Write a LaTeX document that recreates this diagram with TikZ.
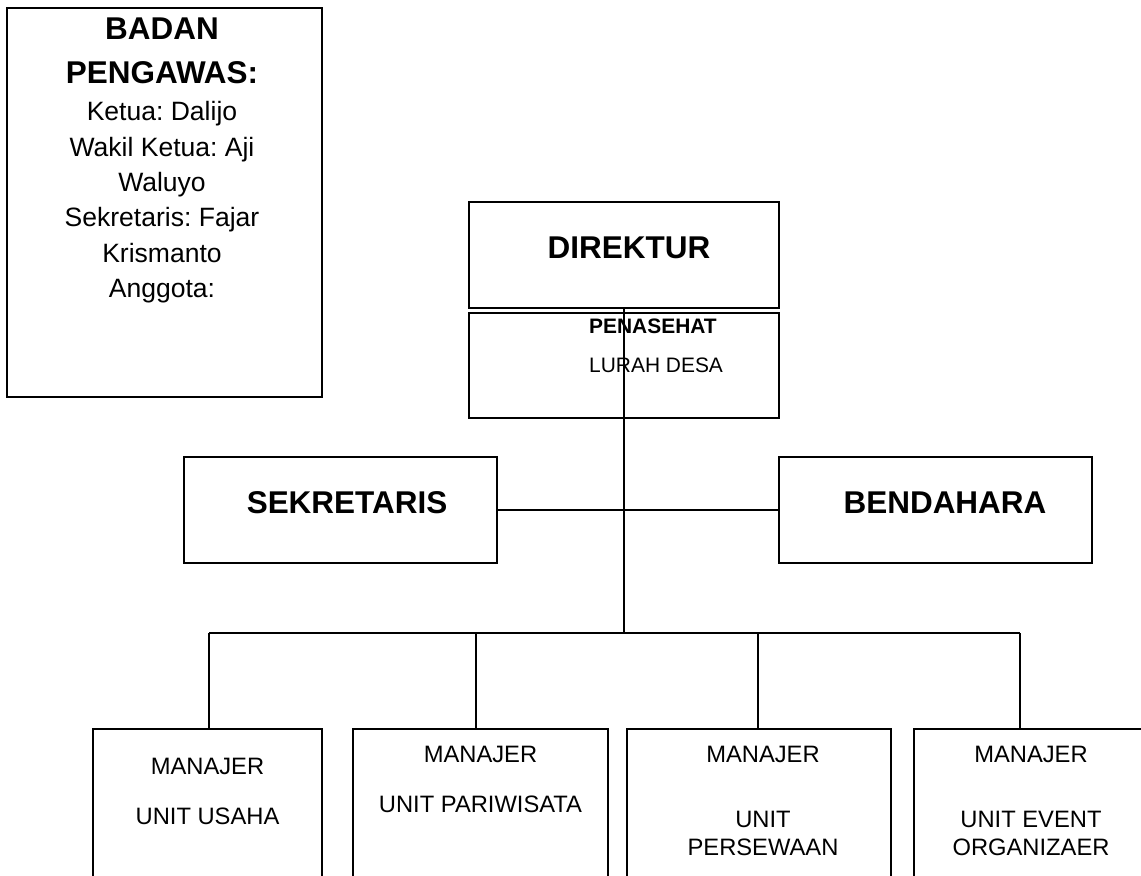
\documentclass[tikz,border=0pt]{standalone}
\usepackage{fontspec}
\setmainfont{Liberation Sans}
\usetikzlibrary{positioning}
\frenchspacing
\newcommand{\px}{0.75pt}
\tikzset{
  box/.style={draw=black, line width=1.6pt, inner sep=0pt},
  conn/.style={draw=black, line width=1.6pt},
  headtxt/.style={font=\fontsize{23.6}{33.2}\selectfont\bfseries, inner sep=0pt, align=center},
  listtxt/.style={font=\fontsize{19.9}{26.5}\selectfont, inner sep=0pt, align=center},
  advtxt/.style={font=\fontsize{15.7}{28.9}\selectfont, inner sep=0pt, align=left},
  unittxt/.style={font=\fontsize{17.8}{21}\selectfont, inner sep=0pt, align=center}
}

\begin{document}
\begin{tikzpicture}[x=\px, y=-\px]
  \useasboundingbox (0,0) rectangle (1141,875);
  \clip (0,0) rectangle (1141,875);

  % badan pengawas
  \node[box, minimum width=315*\px, minimum height=389*\px] (pengawas) at (164.5,202.5) {};
  \node[headtxt, below=10.5*\px of pengawas.north, xshift=-2.5*\px] (pengawashead) {BADAN\\PENGAWAS:};
  \node[listtxt, below=17*\px of pengawashead] (pengawaslist) {Ketua: Dalijo\\Wakil Ketua: Aji\\Waluyo\\Sekretaris: Fajar\\Krismanto\\Anggota:};

  % direktur + penasehat
  \node[box, minimum width=310*\px, minimum height=106*\px] (direktur) at (624,255) {};
  \node[headtxt] (direkturtxt) at ([xshift=5*\px, yshift=7*\px]direktur.center) {DIREKTUR};
  \node[box, minimum width=310*\px, minimum height=105*\px] (penasehat) at (624,365.5) {};
  \node[advtxt, anchor=north west] (penasehattxt) at ([xshift=121*\px, yshift=-7*\px]penasehat.north west) {\textbf{PENASEHAT}\\LURAH DESA};

  % sekretaris, bendahara
  \node[box, minimum width=313*\px, minimum height=106*\px] (sek) at (340.5,510) {};
  \node[headtxt] (sektxt) at ([xshift=6.5*\px, yshift=7*\px]sek.center) {SEKRETARIS};
  \node[box, minimum width=313*\px, minimum height=106*\px] (bend) at (935.5,510) {};
  \node[headtxt] (bendtxt) at ([xshift=9.5*\px, yshift=7*\px]bend.center) {BENDAHARA};

  % manajer unit
  \node[box, minimum width=229*\px, minimum height=200*\px] (m1) at (207.5,829) {};
  \node[box, minimum width=255*\px, minimum height=200*\px] (m2) at (480.5,829) {};
  \node[box, minimum width=264*\px, minimum height=200*\px] (m3) at (759,829) {};
  \node[box, minimum width=234*\px, minimum height=200*\px] (m4) at (1031,829) {};
  \node[unittxt, below=29.5*\px of m1.north] (m1txt) {MANAJER\\[16.5pt]UNIT USAHA};
  \node[unittxt, below=17.5*\px of m2.north] (m2txt) {MANAJER\\[16.5pt]UNIT PARIWISATA};
  \node[unittxt, below=17.5*\px of m3.north, xshift=4*\px] (m3txt) {MANAJER\\[27.75pt]UNIT\\PERSEWAAN};
  \node[unittxt, below=17.5*\px of m4.north] (m4txt) {MANAJER\\[27.75pt]UNIT EVENT\\ORGANIZAER};

  % junctions on the bus
  \coordinate (j1) at (209,633);
  \coordinate (j2) at (476,633);
  \coordinate (j3) at (758,633);
  \coordinate (j4) at (1020,633);

  \draw[conn] (direktur.south) -- (direktur.south |- j1);
  \draw[conn] (sek.east) -- (bend.west);
  \draw[conn] (j1) -- (j4);
  \foreach \j/\m in {j1/m1, j2/m2, j3/m3, j4/m4}
    \draw[conn] (\j) -- (\j |- \m.north);
\end{tikzpicture}
\end{document}
